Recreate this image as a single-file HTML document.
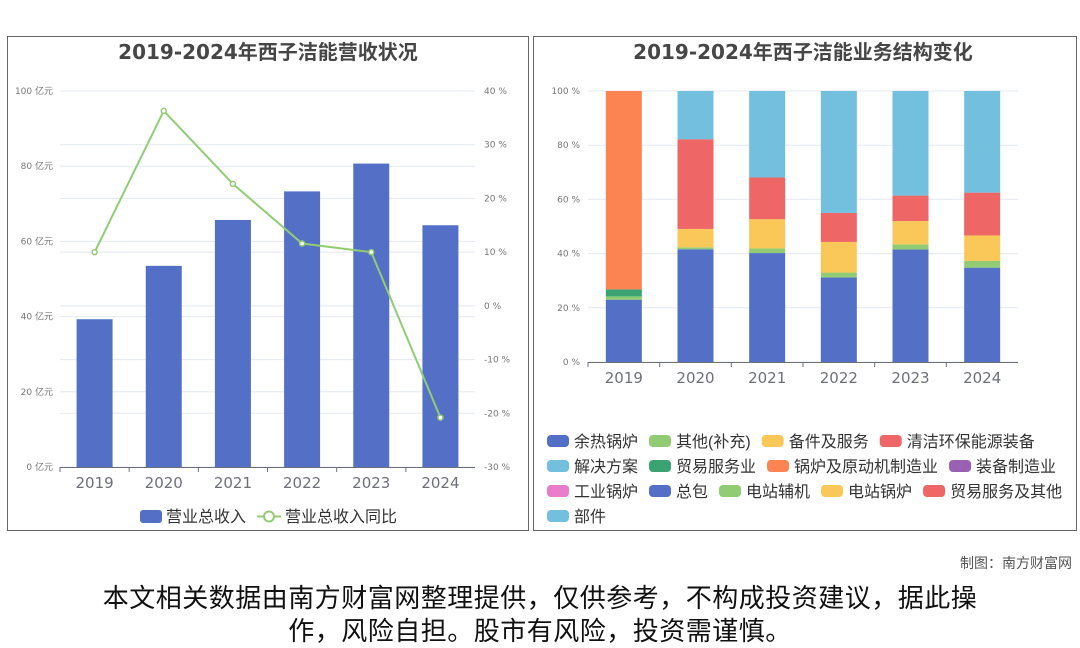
<!DOCTYPE html>
<html><head><meta charset="utf-8"><style>
body{margin:0;width:1080px;height:646px;background:#fff;position:relative;overflow:hidden;font-family:"Liberation Sans","Noto Sans CJK SC",sans-serif;}
svg{position:absolute;left:0;top:0}
.foot{position:absolute;right:8px;top:553px;font-size:14px;color:#555}
.disc{position:absolute;left:0;width:1080px;top:582px;text-align:center;font-size:26px;line-height:33px;color:#111;letter-spacing:0.5px}
</style></head><body>
<svg id="c" width="1080" height="646"></svg>
<div class="foot">制图：南方财富网</div>
<div class="disc">本文相关数据由南方财富网整理提供，仅供参考，不构成投资建议，据此操<br>作，风险自担。股市有风险，投资需谨慎。</div>
<script>
const years=["2019","2020","2021","2022","2023","2024"];
const revenue=[39.3,53.5,65.7,73.3,80.7,64.3];
const yoy=[10.0,36.3,22.7,11.6,10.0,-20.8];
const leftTicks=[0,20,40,60,80,100];
const rightTicks=[-30,-20,-10,0,10,20,30,40];
const segNames=["余热锅炉","其他(补充)","备件及服务","清洁环保能源装备","解决方案","贸易服务业","锅炉及原动机制造业"];
const segColors=["#5470c6","#91cc75","#fac858","#ee6666","#73c0de","#3ba272","#fc8452"];
const s_yure=[23.0,41.6,40.2,31.2,41.5,34.8];
const s_other=[1.2,0.7,1.7,1.8,1.9,2.5];
const s_bei=[0,6.8,10.8,11.3,8.6,9.4];
const s_clean=[0,33.1,15.4,10.7,9.4,15.8];
const s_sol=[0,17.8,31.9,45.0,38.6,37.5];
const s_trade=[2.6,0,0,0,0,0];
const s_boiler=[73.2,0,0,0,0,0];
const pctTicks=[0,20,40,60,80,100];
const legendItems=[["余热锅炉","#5470c6"],["其他(补充)","#91cc75"],["备件及服务","#fac858"],["清洁环保能源装备","#ee6666"],["解决方案","#73c0de"],["贸易服务业","#3ba272"],["锅炉及原动机制造业","#fc8452"],["装备制造业","#9a60b4"],["工业锅炉","#ea7ccc"],["总包","#5470c6"],["电站辅机","#91cc75"],["电站锅炉","#fac858"],["贸易服务及其他","#ee6666"],["部件","#73c0de"]];
const svg=document.getElementById('c');const NS="http://www.w3.org/2000/svg";
const DJ='"DejaVu Sans","Noto Sans CJK SC",sans-serif';
function mk(t,a,txt){const e=document.createElementNS(NS,t);for(const k in a)e.setAttribute(k,a[k]);if(txt!==undefined)e.textContent=txt;svg.appendChild(e);return e;}
let p=mk('rect',{x:7.5,y:36.5,width:521,height:494,fill:'none',stroke:'#666'});


p=mk('rect',{x:533.5,y:36.5,width:543,height:494,fill:'none',stroke:'#666'});


let t=mk('text',{x:268,y:59,'text-anchor':'middle','font-size':20,'font-weight':'bold',fill:'#464646','font-family':DJ},'2019-2024年西子洁能营收状况');


t=mk('text',{x:803,y:59,'text-anchor':'middle','font-size':20,'font-weight':'bold',fill:'#464646','font-family':DJ},'2019-2024年西子洁能业务结构变化');


const L={x0:60,x1:475,y0:467,y1:91};
const ly=v=>L.y0-(v/100)*(L.y0-L.y1);
const ry=v=>L.y0-((v+30)/70)*(L.y0-L.y1);
const cw=(L.x1-L.x0)/years.length;const cx=i=>L.x0+cw*(i+0.5);
rightTicks.forEach(v=>{let g=mk('line',{x1:L.x0,x2:L.x1,y1:ry(v),y2:ry(v),stroke:'#e3e8f2'});
let tx=mk('text',{x:484,y:ry(v)+3,'font-size':9,fill:'#777','font-family':DJ},v+' %');});
leftTicks.forEach(v=>{let g=mk('line',{x1:L.x0,x2:L.x1,y1:ly(v),y2:ly(v),stroke:'#e3e8f2'});
let tx=mk('text',{x:53,y:ly(v)+3,'text-anchor':'end','font-size':9,fill:'#777','font-family':DJ},v+' 亿元');});
revenue.forEach((v,i)=>{let b=mk('rect',{x:cx(i)-18,y:ly(v),width:36,height:L.y0-ly(v),fill:'#5470c6'});});
let ax=mk('line',{x1:L.x0,x2:L.x1,y1:L.y0+.5,y2:L.y0+.5,stroke:'#6e7079'});
years.forEach((y,i)=>{let k=mk('line',{x1:L.x0+cw*i,x2:L.x0+cw*i,y1:L.y0,y2:L.y0+5,stroke:'#6e7079'});
let tx=mk('text',{x:cx(i),y:488,'text-anchor':'middle','font-size':15,fill:'#6e7079','font-family':DJ},y);});
let ln=mk('polyline',{points:yoy.map((v,i)=>cx(i)+','+ry(v)).join(' '),fill:'none',stroke:'#91cc75','stroke-width':2});
yoy.forEach((v,i)=>{let c=mk('circle',{cx:cx(i),cy:ry(v),r:2.5,fill:'#fff',stroke:'#91cc75','stroke-width':1.5});});
let lg=mk('rect',{x:140,y:510,width:22,height:13,rx:3,fill:'#5470c6'});
lg=mk('text',{x:166,y:522,'font-size':16,fill:'#333'},'营业总收入');
lg=mk('line',{x1:257,x2:281,y1:516.5,y2:516.5,stroke:'#91cc75','stroke-width':2});
lg=mk('circle',{cx:269,cy:516.5,r:5,fill:'#fff',stroke:'#91cc75','stroke-width':2});
lg=mk('text',{x:285,y:522,'font-size':16,fill:'#333'},'营业总收入同比');
const R={x0:588,x1:1018,y0:362,y1:91};
const py=v=>R.y0-(v/100)*(R.y0-R.y1);
const rcw=(R.x1-R.x0)/years.length;const rcx=i=>R.x0+rcw*(i+0.5);
pctTicks.forEach(v=>{let g=mk('line',{x1:R.x0,x2:R.x1,y1:py(v),y2:py(v),stroke:'#e3e8f2'});
let tx=mk('text',{x:580,y:py(v)+3,'text-anchor':'end','font-size':9,fill:'#777','font-family':DJ},v+' %');});
const series=[s_yure,s_other,s_trade,s_bei,s_clean,s_sol,s_boiler];
const sIdx=[0,1,5,2,3,4,6];
years.forEach((y,i)=>{let acc=0;series.forEach((s,k)=>{const v=s[i];if(!v)return;const c=segColors[sIdx[k]];
let r=mk('rect',{x:rcx(i)-18,y:py(acc+v),width:36,height:py(acc)-py(acc+v),fill:c});acc+=v;});});
ax=mk('line',{x1:R.x0,x2:R.x1,y1:R.y0+.5,y2:R.y0+.5,stroke:'#6e7079'});
years.forEach((y,i)=>{let k=mk('line',{x1:R.x0+rcw*i,x2:R.x0+rcw*i,y1:R.y0,y2:R.y0+5,stroke:'#6e7079'});
let tx=mk('text',{x:rcx(i),y:383,'text-anchor':'middle','font-size':15,fill:'#6e7079','font-family':DJ},y);});
const rows=[[0,4],[4,8],[8,13],[13,14]];
rows.forEach((rw,ri)=>{let x=547;const y=441+ri*25;for(let j=rw[0];j<rw[1];j++){const [n,c]=legendItems[j];
let s=mk('rect',{x:x,y:y-6,width:22,height:12,rx:4,fill:c});
let tx=mk('text',{x:x+27,y:y+6,'font-size':16,fill:'#333'},n);
x+=27+tx.getComputedTextLength()+11;}});
</script>
</body></html>
